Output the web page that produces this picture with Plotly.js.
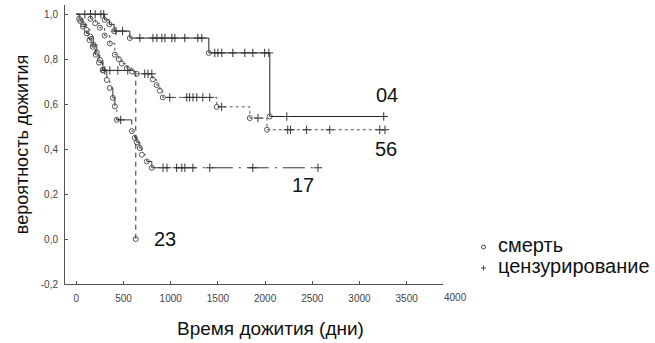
<!DOCTYPE html>
<html><head><meta charset="utf-8">
<script src="https://cdn.plot.ly/plotly-3.0.1.min.js"></script>
<style>body{margin:0;background:#fff}#chart{width:655px;height:343px}</style>
</head><body><div id="chart"></div>
<script>
// Kaplan–Meier data (time in days, survival probability)
const groupNames = ['04', '56', '17', '23'];
const t04 = [0, 300, 350, 400, 567, 1404, 2050];
const s04 = [1.0, 0.975, 0.955, 0.925, 0.894, 0.828, 0.545];
const c04 = [90, 150, 200, 260, 290, 420, 490, 673, 812, 853, 906, 938, 1012, 1044, 1149, 1287, 1330, 1467, 1500, 1541, 1658, 1785, 1870, 1996, 2040, 2230, 3257];

const t56 = [0, 150, 200, 250, 300, 355, 408, 450, 482, 535, 590, 640, 810, 850, 885, 916, 1488, 1838, 2020];
const s56 = [1.0, 0.98, 0.96, 0.94, 0.905, 0.87, 0.82, 0.80, 0.78, 0.76, 0.745, 0.735, 0.71, 0.685, 0.66, 0.63, 0.588, 0.538, 0.486];
const c56 = [725, 760, 800, 990, 1170, 1200, 1236, 1276, 1340, 1414, 1540, 1925, 2240, 2270, 2440, 2685, 3215, 3270];

const t17 = [0, 30, 70, 110, 150, 180, 217, 249, 281, 323, 355, 387, 408, 429, 588, 619, 641, 673, 694, 747, 800];
const s17 = [1.0, 0.98, 0.955, 0.93, 0.9, 0.865, 0.83, 0.797, 0.752, 0.708, 0.672, 0.628, 0.59, 0.53, 0.48, 0.45, 0.43, 0.405, 0.375, 0.345, 0.317];
const c17 = [470, 918, 960, 1063, 1118, 1150, 1235, 1414, 1870, 2560];

const t23 = [0, 40, 70, 110, 140, 175, 205, 240, 280, 630];
const s23 = [1.0, 0.97, 0.945, 0.915, 0.885, 0.855, 0.82, 0.785, 0.75, 0.0];
const c23 = [302, 355, 440, 545];

const xTicks = [0, 500, 1000, 1500, 2000, 2500, 3000, 3500];
const extraXTick = '4000';
const yTicks = [-0.2, 0.0, 0.2, 0.4, 0.6, 0.8, 1.0];
const yTickText = ['-0,2', '0,0', '0,2', '0,4', '0,6', '0,8', '1,0'];
const legendNames = ['смерть', 'цензурирование'];

const FONT = 'Liberation Sans, Arial, sans-serif';
const groups = [
  {name: groupNames[0], t: t04, s: s04, c: c04, dash: 'solid', color: '#222', lab: [3290, 0.64]},
  {name: groupNames[1], t: t56, s: s56, c: c56, dash: 'dot', color: '#555', lab: [3278, 0.40]},
  {name: groupNames[2], t: t17, s: s17, c: c17, dash: '22px,6px,2px,6px', color: '#333', lab: [2400, 0.24]},
  {name: groupNames[3], t: t23, s: s23, c: c23, dash: '5px,4px', color: '#333', lab: [940, 0.0]}
];

function levelAt(t, s, x) {
  let v = s[0];
  for (let i = 0; i < t.length; i++) { if (t[i] <= x) v = s[i]; }
  return v;
}

const traces = [];
const annotations = [];
groups.forEach(g => {
  const end = Math.max(g.t[g.t.length - 1], ...g.c);
  traces.push({
    x: g.t.concat([end]), y: g.s.concat([g.s[g.s.length - 1]]),
    mode: 'lines', line: {shape: 'hv', color: g.color, width: 1, dash: g.dash},
    showlegend: false, hoverinfo: 'skip'
  });
  traces.push({
    x: g.t.slice(1), y: g.s.slice(1), mode: 'markers', showlegend: false,
    marker: {symbol: 'circle-open', size: 5, color: '#555', line: {width: 1, color: '#555'}}
  });
  traces.push({
    x: g.c, y: g.c.map(x => levelAt(g.t, g.s, x)), mode: 'markers', showlegend: false,
    marker: {symbol: 'cross-thin-open', size: 6, color: '#333', line: {width: 1, color: '#333'}}
  });
  annotations.push({x: g.lab[0], y: g.lab[1], xref: 'x', yref: 'y', text: g.name, showarrow: false,
    font: {family: FONT, size: 20, color: '#111'}});
});

// pixel helpers for paper coordinates (plot area: x 65..443, y 5..284)
const px = v => (v - 65) / 378;
const py = v => (284 - v) / 279;

annotations.push({x: px(455), y: -0.2, xref: 'paper', yref: 'y', xanchor: 'center', yanchor: 'top', yshift: -6,
  text: extraXTick, showarrow: false, font: {family: FONT, size: 10, color: '#444'}});
annotations.push({x: px(270), y: py(328), xref: 'paper', yref: 'paper', xanchor: 'center', yanchor: 'middle',
  text: 'Время дожития (дни)', showarrow: false, font: {family: FONT, size: 19, color: '#111'}});
annotations.push({x: px(496), y: py(245), xref: 'paper', yref: 'paper', xanchor: 'left', yanchor: 'middle',
  text: legendNames[0], showarrow: false, font: {family: FONT, size: 20, color: '#111'}});
annotations.push({x: px(496), y: py(266), xref: 'paper', yref: 'paper', xanchor: 'left', yanchor: 'middle',
  text: legendNames[1], showarrow: false, font: {family: FONT, size: 20, color: '#111'}});

const shapes = [
  {type: 'circle', xref: 'paper', yref: 'paper', x0: px(481.5), x1: px(485.5), y0: py(249), y1: py(245),
    line: {color: '#444', width: 1}},
  {type: 'line', xref: 'paper', yref: 'paper', x0: px(481), x1: px(486), y0: py(268), y1: py(268),
    line: {color: '#444', width: 1}},
  {type: 'line', xref: 'paper', yref: 'paper', x0: px(483.5), x1: px(483.5), y0: py(265.5), y1: py(270.5),
    line: {color: '#444', width: 1}}
];

const layout = {
  width: 655, height: 343,
  margin: {l: 65, r: 212, t: 5, b: 59},
  paper_bgcolor: '#fff', plot_bgcolor: '#fff',
  font: {family: FONT, color: '#444', size: 10},
  xaxis: {range: [-120, 3885], tickvals: xTicks, ticks: 'inside', ticklen: 3, tickcolor: '#555',
    showline: true, linecolor: '#555', linewidth: 1, showgrid: false, zeroline: false,
    tickfont: {size: 10, color: '#444'}, ticklabelstandoff: 5},
  yaxis: {range: [-0.2, 1.041], tickvals: yTicks, ticktext: yTickText, ticks: 'inside', ticklen: 3, tickcolor: '#555',
    showline: true, linecolor: '#555', linewidth: 1, showgrid: false, zeroline: false,
    tickfont: {size: 10, color: '#444'}, ticklabelstandoff: 4,
    title: {text: 'вероятность дожития', font: {size: 18, color: '#111'}, standoff: 7}},
  annotations: annotations,
  shapes: shapes,
  showlegend: false
};

Plotly.newPlot('chart', traces, layout, {displayModeBar: false, staticPlot: true});
</script></body></html>
